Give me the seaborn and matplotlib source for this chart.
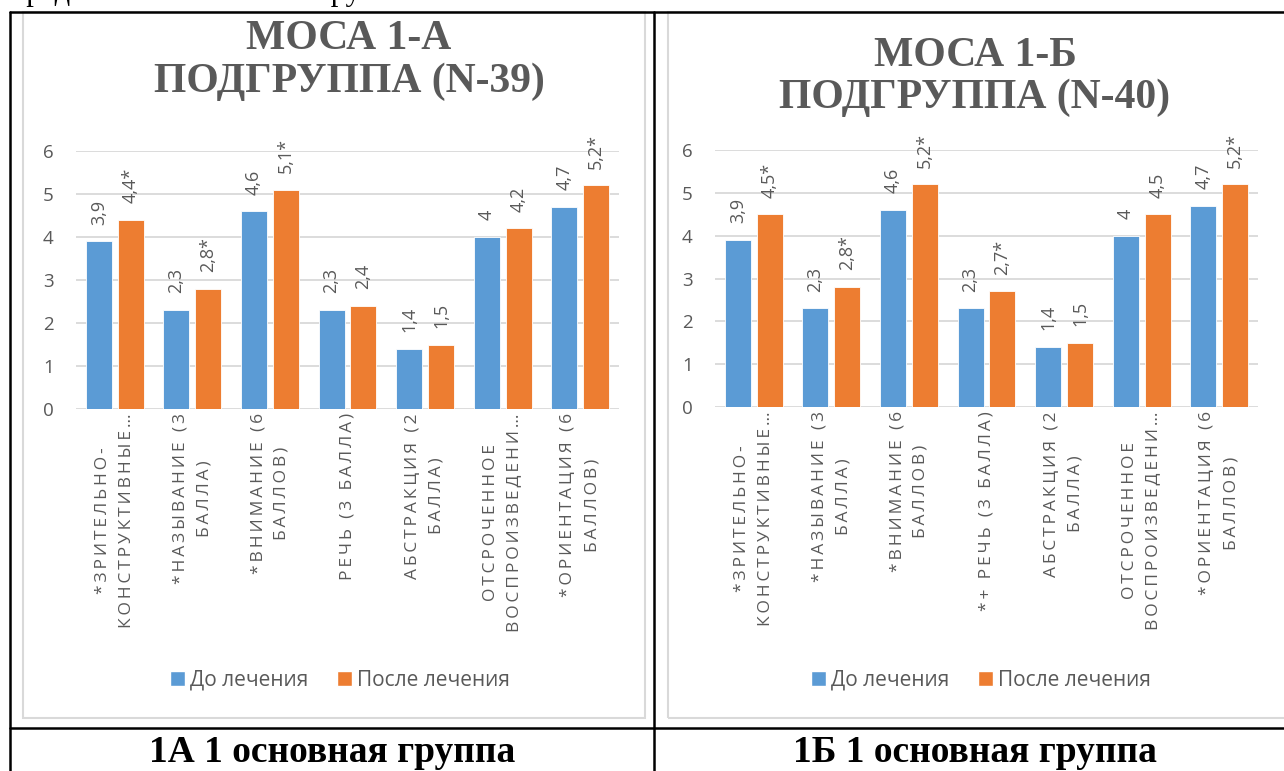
import matplotlib
matplotlib.use("Agg")
import matplotlib.pyplot as plt
from matplotlib.lines import Line2D
from matplotlib.patches import Rectangle, Patch
import seaborn as sns
import pandas as pd

# ---- data -------------------------------------------------------------
categories_a = [
    "*ЗРИТЕЛЬНО-\nКОНСТРУКТИВНЫЕ…",
    "*НАЗЫВАНИЕ (3\nБАЛЛА)",
    "*ВНИМАНИЕ (6\nБАЛЛОВ)",
    "РЕЧЬ (3 БАЛЛА)",
    "АБСТРАКЦИЯ (2\nБАЛЛА)",
    "ОТСРОЧЕННОЕ\nВОСПРОИЗВЕДЕНИ…",
    "*ОРИЕНТАЦИЯ (6\nБАЛЛОВ)",
]
categories_b = list(categories_a)
categories_b[3] = "*+ РЕЧЬ (3 БАЛЛА)"

series_names = ["До лечения", "После лечения"]

before_a = [3.9, 2.3, 4.6, 2.3, 1.4, 4.0, 4.7]
after_a = [4.4, 2.8, 5.1, 2.4, 1.5, 4.2, 5.2]
after_a_marks = ["*", "*", "*", "", "", "", "*"]

before_b = [3.9, 2.3, 4.6, 2.3, 1.4, 4.0, 4.7]
after_b = [4.5, 2.8, 5.2, 2.7, 1.5, 4.5, 5.2]
after_b_marks = ["*", "*", "*", "*", "", "", "*"]

titles = [("МОСА 1-А", "ПОДГРУППА (N-39)"), ("МОСА 1-Б", "ПОДГРУППА (N-40)")]
captions = ["1А 1 основная группа", "1Б 1 основная группа"]
yticks = [0, 1, 2, 3, 4, 5, 6]

# ---- style ------------------------------------------------------------
BLUE = "#5B9BD5"
ORANGE = "#ED7D31"
GREY_TXT = "#595959"
GRID = "#D9D9D9"
SANS = ["Open Sans", "DejaVu Sans"]
SERIF = ["Liberation Serif", "DejaVu Serif"]

sns.set_theme(style="white")
plt.rcParams["font.family"] = SANS

W, H = 1284, 771
fig = plt.figure(figsize=(W / 100, H / 100), dpi=100)
fig.patch.set_facecolor("white")


def fx(px):
    return px / W


def fy(py):
    return 1 - py / H


def spaced(text, sep="\u2009"):
    return "\n".join(sep.join(line) for line in text.split("\n"))


def fmt(v):
    s = f"{v:.1f}"
    if s.endswith(".0"):
        s = s[:-2]
    return s.replace(".", ",")


# ---- table borders and chart frames ----------------------------------
for x0, y0, x1, y1 in [(10, 12, 1284, 12), (10, 728, 1284, 728),
                       (10, 12, 10, 771), (654, 12, 654, 771)]:
    fig.add_artist(Line2D([fx(x0), fx(x1)], [fy(y0), fy(y1)],
                          color="black", lw=1.8, transform=fig.transFigure))

for x0, x1 in [(23, 645), (668, 1300)]:
    fig.add_artist(Rectangle((fx(x0), fy(718)), fx(x1) - fx(x0), fy(12) - fy(718),
                             transform=fig.transFigure, facecolor="none",
                             edgecolor=GRID, lw=1.5))

# paragraph line running above the table
fig.text(fx(10), 1.0, "представлена основная группа", family=SERIF,
         fontsize=22, color="black", va="baseline", ha="left")

# ---- charts -----------------------------------------------------------
panels = [
    dict(cats=categories_a, before=before_a, after=after_a, marks=after_a_marks,
         rect=(76, 619, 151, 409), title=titles[0], title_x=349, title_y=(39, 82),
         legend_x=340, caption=captions[0], caption_x=332),
    dict(cats=categories_b, before=before_b, after=after_b, marks=after_b_marks,
         rect=(715, 1258, 150, 407), title=titles[1], title_x=975, title_y=(56, 98),
         legend_x=981, caption=captions[1], caption_x=975),
]

for p in panels:
    x0, x1, ytop, ybot = p["rect"]
    ax = fig.add_axes([fx(x0), fy(ybot), fx(x1) - fx(x0), fy(ytop) - fy(ybot)])
    df = pd.DataFrame({
        "cat": list(range(len(p["cats"]))) * 2,
        "period": [series_names[0]] * len(p["cats"]) + [series_names[1]] * len(p["cats"]),
        "value": p["before"] + p["after"],
    })
    sns.barplot(data=df, x="cat", y="value", hue="period", hue_order=series_names,
                palette=[BLUE, ORANGE], width=0.82, gap=0.18, ax=ax,
                legend=False, saturation=1, edgecolor="white", linewidth=0.6)

    ax.set_ylim(0, 6)
    ax.set_xlim(-0.5, len(p["cats"]) - 0.5)
    ax.set_yticks(yticks)
    ax.set_yticklabels([str(t) for t in yticks], color=GREY_TXT, fontsize=13.5)
    ax.tick_params(axis="y", pad=16, length=0)
    ax.grid(axis="y", color=GRID, lw=1.3)
    ax.set_axisbelow(True)
    for s in ax.spines.values():
        s.set_visible(False)
    ax.set_xlabel("")
    ax.set_ylabel("")
    ax.set_facecolor("white")

    ax.set_xticks(range(len(p["cats"])))
    ax.set_xticklabels([spaced(c) for c in p["cats"]], rotation=90, va="top",
                       ha="center", multialignment="center", color=GREY_TXT,
                       fontsize=12.5, linespacing=1.65)
    ax.tick_params(axis="x", pad=3, length=0)

    before_labels = [fmt(v) for v in p["before"]]
    after_labels = [fmt(v) + m for v, m in zip(p["after"], p["marks"])]
    for cont, labs in zip(ax.containers, [before_labels, after_labels]):
        ax.bar_label(cont, labels=labs, rotation=90, padding=12, color=GREY_TXT,
                     fontsize=13, clip_on=False)

    for line, yy in zip(p["title"], p["title_y"]):
        fig.text(fx(p["title_x"]), fy(yy), line, family=SERIF,
                 fontweight="bold", fontsize=30, color=GREY_TXT,
                 ha="center", va="center")

    handles = [Patch(facecolor=BLUE), Patch(facecolor=ORANGE)]
    ax.legend(handles, series_names, loc="center", ncol=2, frameon=False,
              bbox_to_anchor=(fx(p["legend_x"]), fy(680)),
              bbox_transform=fig.transFigure, handlelength=0.7,
              handleheight=0.7, handletextpad=0.25, columnspacing=1.4,
              labelcolor=GREY_TXT, prop={"family": SANS, "size": 15})

    fig.text(fx(p["caption_x"]), fy(752), p["caption"], family=SERIF,
             fontweight="bold", fontsize=27, color="black",
             ha="center", va="center")

fig.savefig("out.png", dpi=100, facecolor="white")
